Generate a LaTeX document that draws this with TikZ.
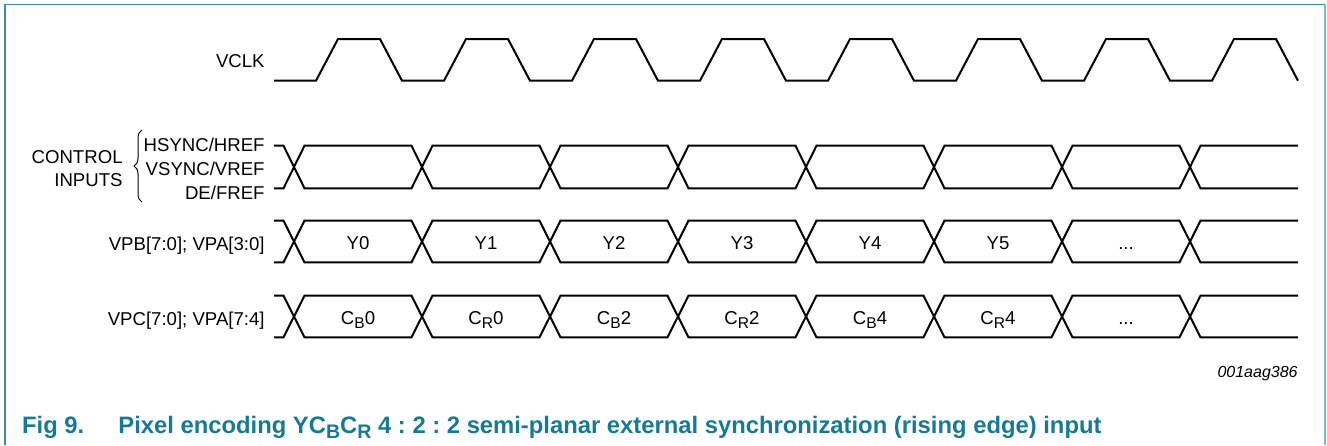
\documentclass[tikz,border=0pt]{standalone}
\usepackage{fontspec}
\setmainfont{Liberation Sans}
\usetikzlibrary{decorations.pathreplacing}
\definecolor{nxpteal}{RGB}{22,122,148}
\definecolor{framelight}{RGB}{125,184,204}
\newcommand{\lowsub}[2][7.8]{\raisebox{-0.25em}{\fontsize{#1}{#1}\selectfont #2}}
\frenchspacing

\begin{document}
\begin{tikzpicture}[x=0.5pt,y=-0.5pt,
    sig/.style={line width=1pt},
    lbl/.style={anchor=base east,inner sep=0pt,font=\fontsize{9.3}{11}\selectfont},
    val/.style={anchor=base,inner sep=0pt,font=\fontsize{9.3}{11}\selectfont}]
\useasboundingbox (0,0) rectangle (1327,445);
% frame
\draw[nxpteal!85, line width=0.9pt] (5,445) -- (5,4.5) -- (1325,4.5);
\draw[framelight, line width=0.9pt] (1325,4.5) -- (1325,445);

% clock
\draw[sig] (274,80.7) \foreach \t in {316,444,...,1212} {-- (\t,80.7) -- ++(22,-41.7) -- ++(42,0) -- ++(22,41.7)};

% control and data buses
\foreach \T/\M/\B in {145.7/167/188.3, 220.7/241.5/262.3, 295.7/316.5/337.3} {
  \draw[sig] (274,\T) -- (283.5,\T) -- (294,\M) -- (283.5,\B) -- (274,\B);
  \foreach \c in {294,422,...,1062}
    \draw[sig] (\c,\M) -- (\c+10.5,\T) -- (\c+117.5,\T) -- (\c+128,\M) -- (\c+117.5,\B) -- (\c+10.5,\B) -- cycle;
  \draw[sig] (1298,\T) -- (1200.5,\T) -- (1190,\M) -- (1200.5,\B) -- (1298,\B);
}

\node[lbl] (vclk) at (265,67.7) {VCLK};
\node[lbl] (hsync) at (265,151) {HSYNC/HREF};
\node[lbl] (vsync) at (265,175) {VSYNC/VREF};
\node[lbl] (de) at (265,199) {DE/FREF};
\node[lbl] (ctrl) at (123,163) {CONTROL};
\node[lbl] (inputs) at (123,186.5) {INPUTS};
\draw[decorate, decoration={brace, amplitude=4pt}, line width=0.5pt] (142,202) -- (142,130);
\node[lbl] (vpb) at (265,250) {VPB[7:0]; VPA[3:0]};
\node[lbl] (vpc) at (265,325) {VPC[7:0]; VPA[7:4]};

\foreach \v [count=\i from 0] in {Y0,Y1,Y2,Y3,Y4,Y5}
  \node[val] (y\i) at (358+128*\i,249.3) {\v};
\node[val] (ydots) at (1126,249.3) {...};
\foreach \v [count=\i from 0] in {{C\lowsub{B}0},{C\lowsub{R}0},{C\lowsub{B}2},{C\lowsub{R}2},{C\lowsub{B}4},{C\lowsub{R}4}}
  \node[val] (c\i) at (358+128*\i,324) {\v};
\node[val] (cdots) at (1126,324) {...};

\node[anchor=base east, inner sep=0pt, font=\fontsize{8}{10}\selectfont\itshape] (figid) at (1298,377.7) {001aag386};
\node[anchor=base west, inner sep=0pt, font=\fontsize{11.9}{14}\selectfont\bfseries, text=nxpteal] (fignum) at (21.7,433) {Fig 9.};
\node[anchor=base west, inner sep=0pt, font=\fontsize{11.9}{14}\selectfont\bfseries, text=nxpteal] (figtitle) at (118,433)
  {Pixel encoding YC\lowsub[9.8]{B}C\lowsub[9.8]{R} 4 : 2 : 2 semi-planar external synchronization (rising edge) input};
\end{tikzpicture}
\end{document}
